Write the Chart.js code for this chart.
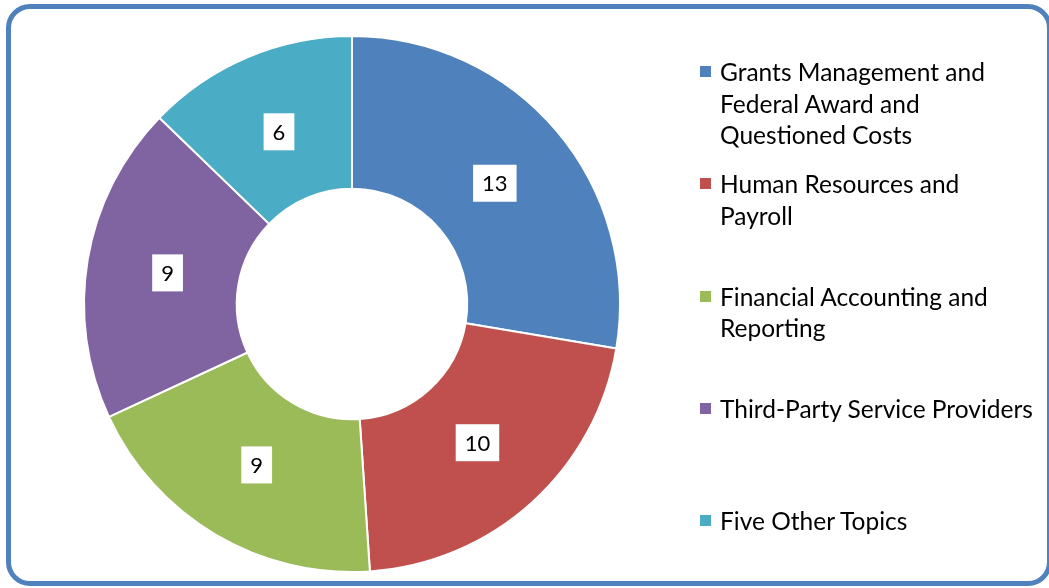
<!DOCTYPE html>
<html>
<head>
<meta charset="utf-8">
<script src="https://cdn.jsdelivr.net/npm/chart.js@4/dist/chart.umd.min.js"></script>
<style>
    html, body {
        margin: 0;
        padding: 0;
        background: #ffffff;
        overflow: hidden;
    }
    #frame {
        position: absolute;
        left: 6px;
        top: 4px;
        width: 1046px;
        height: 582px;
        box-sizing: border-box;
        border: 5px solid #4f81bd;
        border-radius: 24px;
    }
    #chartBox {
        position: absolute;
        left: -3px;
        top: 0;
        width: 710px;
        height: 588px;
    }
    #legend {
        position: absolute;
        left: 700px;
        top: 56px;
        font-family: Lato, "Open Sans", sans-serif;
        font-size: 24.5px;
        line-height: 31.5px;
        color: #000000;
    }
    .legend-item {
        position: relative;
        height: 112.3px;
        padding-left: 20px;
    }
    .legend-box {
        position: absolute;
        left: 0;
        top: 10px;
        width: 11px;
        height: 11px;
    }
</style>
</head>
<body>
<div id="frame"></div>
<div id="chartBox"><canvas id="donutChart"></canvas></div>
<div id="legend"></div>

<script>
// Dados do gráfico
const categories = [
    ['Grants Management and', 'Federal Award and', 'Questioned Costs'],
    ['Human Resources and', 'Payroll'],
    ['Financial Accounting and', 'Reporting'],
    ['Third-Party Service Providers'],
    ['Five Other Topics']
];
const findings = [13, 10, 9, 9, 6];
const sliceColors = ['#4f81bd', '#c0504d', '#9bbb59', '#8064a2', '#4bacc6'];

// Plugin que desenha os rótulos com caixa branca dentro de cada fatia
const boxLabels = {
    id: 'boxLabels',
    afterDatasetsDraw(chart) {
        const ctx = chart.ctx;
        const meta = chart.getDatasetMeta(0);
        ctx.save();
        ctx.font = '22px Lato, "Open Sans", sans-serif';
        ctx.textAlign = 'center';
        ctx.textBaseline = 'middle';
        meta.data.forEach((arc, i) => {
            const p = arc.getProps(['x', 'y', 'startAngle', 'endAngle', 'innerRadius', 'outerRadius']);
            const mid = (p.startAngle + p.endAngle) / 2;
            const r = p.innerRadius + 0.47 * (p.outerRadius - p.innerRadius);
            const x = p.x + Math.cos(mid) * r;
            const y = p.y + Math.sin(mid) * r;
            const text = String(chart.data.datasets[0].data[i]);
            const w = ctx.measureText(text).width + 18;
            const h = 37;
            ctx.fillStyle = '#ffffff';
            ctx.fillRect(x - w / 2, y - h / 2, w, h);
            ctx.fillStyle = '#000000';
            ctx.fillText(text, x, y + 1);
        });
        ctx.restore();
    }
};

function initializeChart() {
    const ctx = document.getElementById('donutChart').getContext('2d');
    return new Chart(ctx, {
        type: 'doughnut',
        data: {
            labels: categories.map(c => c.join(' ')),
            datasets: [{
                data: findings,
                backgroundColor: sliceColors,
                borderColor: '#ffffff',
                borderWidth: 2
            }]
        },
        options: {
            responsive: true,
            maintainAspectRatio: false,
            animation: false,
            cutout: '43%',
            layout: {
                padding: { top: 35, bottom: 15 }
            },
            plugins: {
                legend: { display: false },
                tooltip: { enabled: false }
            }
        },
        plugins: [boxLabels]
    });
}

// Legenda em HTML (os textos quebram em várias linhas)
function buildLegend() {
    const legend = document.getElementById('legend');
    categories.forEach((lines, i) => {
        const item = document.createElement('div');
        item.className = 'legend-item';
        const box = document.createElement('span');
        box.className = 'legend-box';
        box.style.background = sliceColors[i];
        item.appendChild(box);
        lines.forEach(line => {
            const row = document.createElement('div');
            row.textContent = line;
            item.appendChild(row);
        });
        legend.appendChild(item);
    });
}

buildLegend();
initializeChart();
</script>
</body>
</html>
